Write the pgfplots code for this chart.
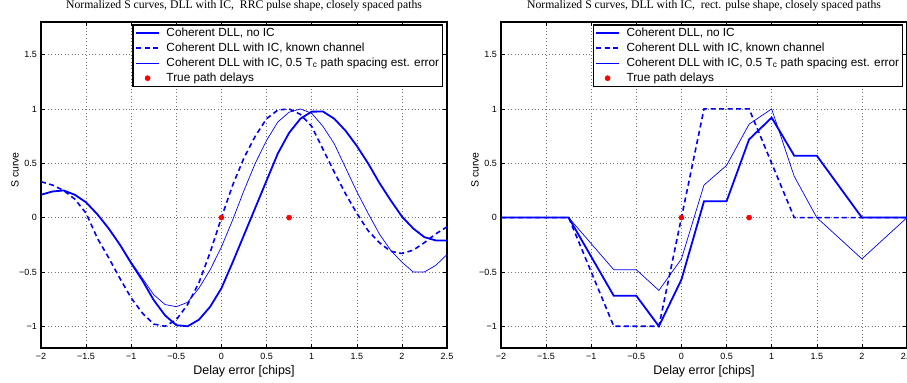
\documentclass[border=0pt]{standalone}
\usepackage{pgfplots}
\pgfplotsset{compat=1.18}
\usepackage{pgfplotstable}
\usepackage{fontspec}
\setmainfont{Liberation Sans}
\newfontfamily\titlefont{Liberation Serif}
\definecolor{mblue}{rgb}{0,0,1}
\definecolor{mred}{rgb}{1,0,0}

\pgfplotstableread{
x noic known err
-2.000 0.21 0.33 0.21
-1.875 0.24 0.30 0.24
-1.750 0.25 0.25 0.25
-1.625 0.21 0.17 0.21
-1.500 0.14 0.04 0.14
-1.375 0.03 -0.19 0.03
-1.250 -0.10 -0.37 -0.10
-1.125 -0.25 -0.56 -0.25
-1.000 -0.42 -0.74 -0.41
-0.875 -0.58 -0.88 -0.56
-0.750 -0.76 -0.98 -0.71
-0.625 -0.90 -1.00 -0.80
-0.500 -0.99 -0.94 -0.82
-0.375 -1.00 -0.80 -0.78
-0.250 -0.94 -0.60 -0.65
-0.125 -0.82 -0.32 -0.48
0.000 -0.65 0.00 -0.27
0.125 -0.41 0.30 -0.02
0.250 -0.16 0.55 0.25
0.375 0.09 0.75 0.50
0.500 0.34 0.91 0.71
0.625 0.59 0.99 0.88
0.750 0.78 1.00 0.97
0.875 0.91 0.95 1.00
1.000 0.975 0.84 0.96
1.125 0.976 0.63 0.84
1.250 0.91 0.42 0.68
1.375 0.80 0.22 0.46
1.500 0.66 0.04 0.24
1.625 0.50 -0.12 0.04
1.750 0.32 -0.23 -0.15
1.875 0.16 -0.31 -0.30
2.000 0.01 -0.33 -0.41
2.125 -0.10 -0.30 -0.50
2.250 -0.18 -0.23 -0.50
2.375 -0.21 -0.15 -0.44
2.500 -0.21 -0.085 -0.34
}\leftdata

\pgfplotsset{
  sstyle/.style={
    scale only axis, width=406bp, height=326bp,
    xmin=-2, xmax=2.5, ymin=-1.2, ymax=1.8,
    xtick={-2,-1.5,-1,-0.5,0,0.5,1,1.5,2,2.5},
    xticklabels={−2,−1.5,−1,−0.5,0,0.5,1,1.5,2,2.5},
    ytick={-1,-0.5,0,0.5,1,1.5},
    yticklabels={−1,−0.5,0,0.5,1,1.5},
    tick align=inside, major tick length=4bp,
    tick style={black, line width=0.5bp},
    grid=major,
    grid style={black!55, line width=0.5bp, dash pattern=on 0.8bp off 2.6bp},
    axis line style={line width=1.2bp},
    ticklabel style={font=\fontsize{9bp}{10bp}\selectfont},
    xticklabel style={anchor=base, yshift=-12bp},
    yticklabel style={anchor=east, inner sep=0pt, xshift=-4bp},
    xlabel={Delay error [chips]},
    xlabel style={font=\fontsize{12.5bp}{14bp}\selectfont, at={(axis description cs:0.5,-0.0807)}, anchor=base},
    ylabel={S curve},
    ylabel style={font=\fontsize{10.5bp}{12bp}\selectfont, at={(axis description cs:-0.064,0.546)}, anchor=center},
    title style={font=\titlefont\fontsize{11.7bp}{13bp}\selectfont, at={(0.5,1)}, anchor=base, yshift=8bp},
    legend image code/.code={\draw[mark repeat=2,mark phase=2,#1] plot coordinates {(0bp,0bp) (11.5bp,0bp) (23bp,0bp)};},
    legend style={at={(axis description cs:0.2266,0.9908)}, anchor=north west,
      fill=white, inner xsep=2bp, inner ysep=1.5bp,
      font=\fontsize{11.8bp}{13bp}\selectfont,
      nodes={inner sep=1bp, text height=8.5bp, text depth=2.5bp},
      row sep=2bp, column sep=5.5bp},
    legend cell align=left,
  },
}

\begin{document}
\begin{tikzpicture}
\path[use as bounding box] (0,0) rectangle (907bp,383bp);

\begin{axis}[sstyle, at={(41bp,35bp)}, anchor=south west,
  legend style={name=legA},
  title={Normalized S curves, DLL with IC,\ \ RRC pulse shape, closely spaced paths}]
\addplot[color=mblue, line width=1.8bp] table[x=x,y=noic]{\leftdata};
\addplot[color=mblue, line width=1.6bp, dash pattern=on 5bp off 3.5bp] table[x=x,y=known]{\leftdata};
\addplot[color=mblue, line width=0.7bp] table[x=x,y=err]{\leftdata};
\addplot[color=mred, only marks, mark=*, mark size=2.6bp] coordinates {(0,0) (0.75,0)};
\legend{Coherent DLL{,} no IC, Coherent DLL with IC{,} known channel, Coherent DLL with IC{,} 0.5 T\textsubscript{c} path spacing est. error, True path delays}
\end{axis}

\begin{axis}[sstyle, at={(501bp,35bp)}, anchor=south west,
  legend style={name=legB},
  title={Normalized S curves, DLL with IC,\ \ rect. pulse shape, closely spaced paths}]
\addplot[color=mblue, line width=1.8bp] coordinates {(-2,0) (-1.25,0) (-0.75,-0.72) (-0.5,-0.72) (-0.25,-1) (0,-0.57) (0.25,0.15) (0.5,0.15) (0.75,0.72) (1,0.92) (1.25,0.57) (1.5,0.57) (2,0) (2.5,0)};
\addplot[color=mblue, line width=1.6bp, dash pattern=on 5bp off 3.5bp] coordinates {(-2,0) (-1.25,0) (-0.75,-1) (-0.25,-1) (0.25,1) (0.75,1) (1.25,0) (2.5,0)};
\addplot[color=mblue, line width=0.7bp] coordinates {(-2,0) (-1.25,0) (-0.75,-0.48) (-0.5,-0.48) (-0.25,-0.67) (0,-0.38) (0.25,0.30) (0.5,0.48) (0.75,0.86) (1,1) (1.25,0.38) (1.5,0) (2,-0.38) (2.5,0)};
\addplot[color=mred, only marks, mark=*, mark size=2.6bp] coordinates {(0,0) (0.75,0)};
\legend{Coherent DLL{,} no IC, Coherent DLL with IC{,} known channel, Coherent DLL with IC{,} 0.5 T\textsubscript{c} path spacing est. error, True path delays}
\end{axis}
\draw[line width=1bp] (legA.south west) rectangle (legA.north east);
\draw[line width=1bp] (legB.south west) rectangle (legB.north east);
\end{tikzpicture}
\end{document}
